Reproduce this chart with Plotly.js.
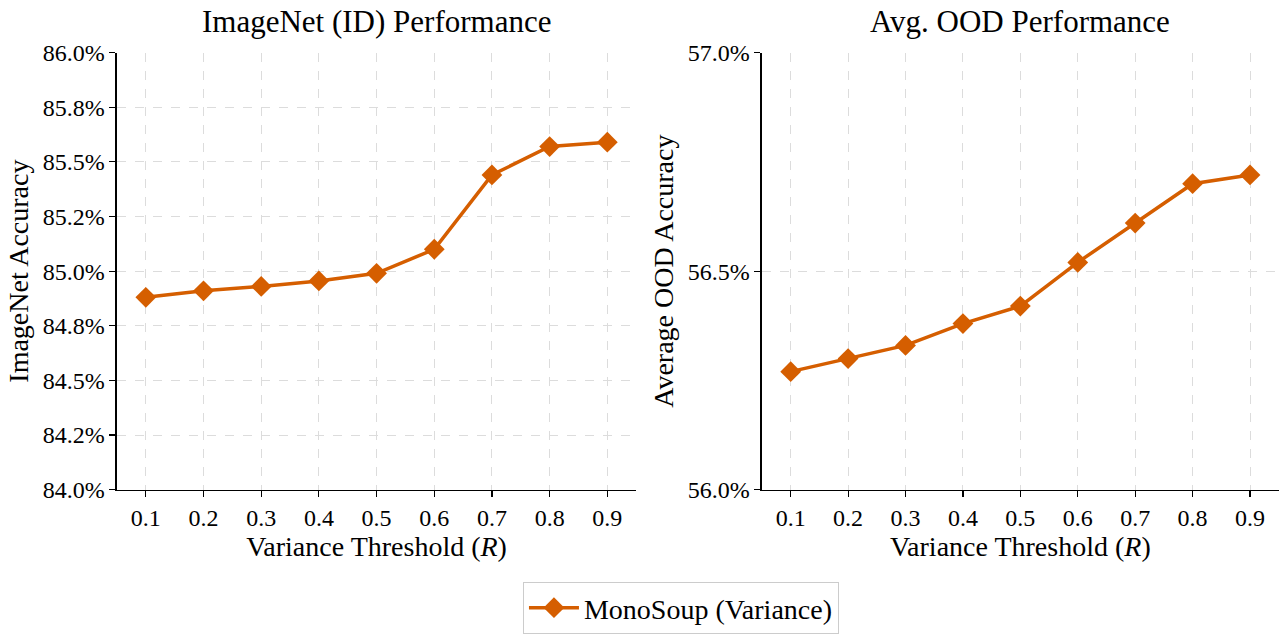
<!DOCTYPE html>
<html>
<head>
<meta charset="utf-8">
<script src="https://cdn.plot.ly/plotly-3.0.1.min.js"></script>
<style>html,body{margin:0;padding:0;background:#fff;}#chart{width:1280px;height:634px;}</style>
</head>
<body>
<div id="chart"></div>
<script>
const thresholds = [0.1, 0.2, 0.3, 0.4, 0.5, 0.6, 0.7, 0.8, 0.9];
const imagenetAcc = [84.88, 84.91, 84.93, 84.955, 84.99, 85.10, 85.44, 85.57, 85.59];
const oodAcc = [56.27, 56.30, 56.33, 56.38, 56.42, 56.52, 56.61, 56.70, 56.72];
const xTickLabels = ["0.1","0.2","0.3","0.4","0.5","0.6","0.7","0.8","0.9"];
const idTickVals = [84.0, 84.25, 84.5, 84.75, 85.0, 85.25, 85.5, 85.75, 86.0];
const idTickText = ["84.0%","84.2%","84.5%","84.8%","85.0%","85.2%","85.5%","85.8%","86.0%"];
const oodTickVals = [56.0, 56.5, 57.0];
const oodTickText = ["56.0%","56.5%","57.0%"];
const seriesName = "MonoSoup (Variance)";
const color = "#d55e00";
const FONT = "Liberation Serif, DejaVu Serif, serif";

const trace = (x, y, xa, ya, show) => ({
  x: x, y: y, xaxis: xa, yaxis: ya, type: "scatter", mode: "lines+markers",
  name: seriesName, showlegend: show,
  line: {color: color, width: 3.5},
  marker: {symbol: "diamond", size: 16, color: color}
});

const xBase = {
  range: [0.05, 0.95], tickvals: thresholds, ticktext: xTickLabels,
  showline: true, linecolor: "#000", linewidth: 1.5, mirror: false,
  ticks: "outside", ticklen: 6, tickwidth: 1.2, tickcolor: "#000",
  showgrid: true, gridcolor: "#dcdcdc", griddash: "dash", gridwidth: 1,
  zeroline: false, tickfont: {size: 24, family: FONT, color: "#000"},
  title: {text: "Variance Threshold (<i>R</i>)", font: {size: 28, family: FONT, color: "#000"}, standoff: 6}
};
const yBase = {
  showline: true, linecolor: "#000", linewidth: 1.5, mirror: false,
  ticks: "outside", ticklen: 6, tickwidth: 1.2, tickcolor: "#000",
  showgrid: true, gridcolor: "#dcdcdc", griddash: "dash", gridwidth: 1,
  zeroline: false, tickfont: {size: 24, family: FONT, color: "#000"}
};

const layout = {
  width: 1280, height: 634,
  margin: {l: 0, r: 0, t: 0, b: 0},
  paper_bgcolor: "#fff", plot_bgcolor: "#fff",
  font: {family: FONT, color: "#000"},
  xaxis: Object.assign({}, xBase, {domain: [0.0914, 0.497], anchor: "y"}),
  yaxis: Object.assign({}, yBase, {domain: [0.2215, 0.9164], anchor: "x", range: [84.0, 86.0],
    tickvals: idTickVals, ticktext: idTickText,
    title: {text: "ImageNet Accuracy", font: {size: 28, family: FONT, color: "#000"}, standoff: 6}}),
  xaxis2: Object.assign({}, xBase, {domain: [0.5953, 0.999], anchor: "y2"}),
  yaxis2: Object.assign({}, yBase, {domain: [0.2215, 0.9164], anchor: "x2", range: [56.0, 57.0],
    tickvals: oodTickVals, ticktext: oodTickText,
    title: {text: "Average OOD Accuracy", font: {size: 28, family: FONT, color: "#000"}, standoff: 6}}),
  annotations: [
    {text: "ImageNet (ID) Performance", xref: "paper", yref: "paper", x: (0.0914+0.497)/2, y: 0.966,
     xanchor: "center", yanchor: "middle", showarrow: false, font: {size: 31, family: FONT, color: "#000"}},
    {text: "Avg. OOD Performance", xref: "paper", yref: "paper", x: (0.5953+0.999)/2, y: 0.966,
     xanchor: "center", yanchor: "middle", showarrow: false, font: {size: 31, family: FONT, color: "#000"}}
  ],
  legend: {orientation: "h", x: 0.532, xanchor: "center", y: 0.074, yanchor: "top",
    bordercolor: "#cccccc", borderwidth: 1, bgcolor: "#fff", itemwidth: 50,
    font: {size: 28, family: FONT, color: "#000"}}
};

Plotly.newPlot("chart", [
  trace(thresholds, imagenetAcc, "x", "y", true),
  trace(thresholds, oodAcc, "x2", "y2", false)
], layout, {displayModeBar: false, staticPlot: true});
</script>
</body>
</html>
